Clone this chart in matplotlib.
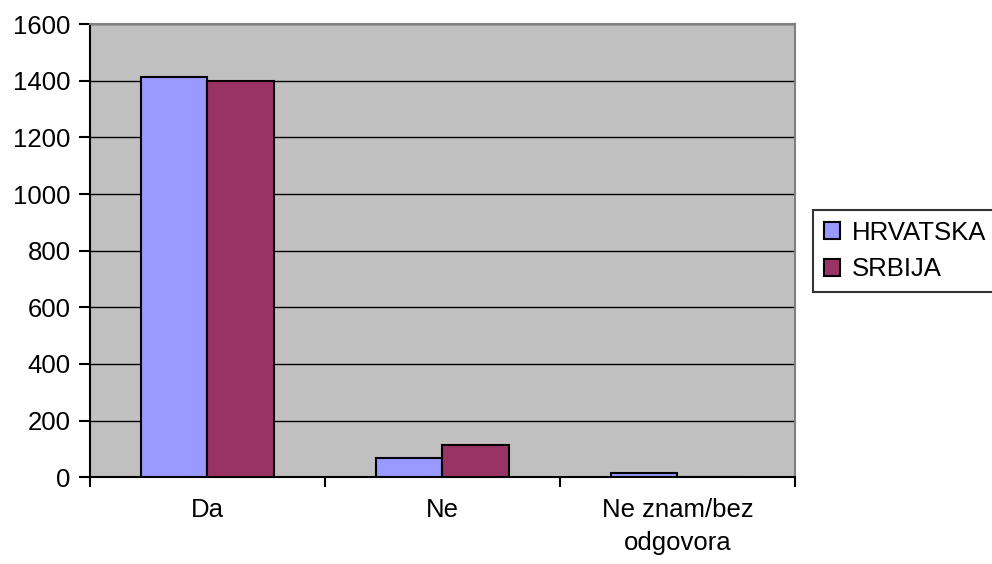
import matplotlib
matplotlib.use("Agg")
import matplotlib.pyplot as plt
import numpy as np

plt.rcParams['font.family'] = ['Liberation Sans', 'DejaVu Sans']

categories = ["Da", "Ne", "Ne znam/bez\nodgovora"]
hrvatska = [1415, 68, 14]
srbija = [1400, 115, 0]
series_names = ["HRVATSKA", "SRBIJA"]

fs = 18.5

fig = plt.figure(figsize=(9.92, 5.64), dpi=100)
ax = fig.add_axes([0.0907, 0.154, 0.7107, 0.803])
ax.set_facecolor("#C0C0C0")

x = np.arange(len(categories))
w = 0.285
ax.bar(x - w / 2, hrvatska, w, color="#9999FF", edgecolor="black", linewidth=1.5,
       label=series_names[0], zorder=3)
ax.bar(x + w / 2, srbija, w, color="#993366", edgecolor="black", linewidth=1.5,
       label=series_names[1], zorder=3)

ax.set_xlim(-0.5, 2.5)
ax.set_ylim(0, 1600)
ax.set_yticks(np.arange(0, 1601, 200))
ax.yaxis.grid(True, color="black", linewidth=1.0, zorder=0)
ax.set_axisbelow(True)

# category ticks on the boundaries, labels in the middle
ax.set_xticks([-0.5, 0.5, 1.5, 2.5])
ax.set_xticklabels([])
ax.set_xticks(x, minor=True)
ax.set_xticklabels(categories, minor=True, fontsize=fs, linespacing=1.45)
ax.tick_params(axis="x", which="minor", length=0, pad=15)
ax.tick_params(axis="x", which="major", length=7, width=1.5, color="black")
ax.tick_params(axis="y", length=8, width=1.5, labelsize=fs, pad=6)

for s in ["top", "right"]:
    ax.spines[s].set_color("#808080")
    ax.spines[s].set_linewidth(1.5)
ax.spines["left"].set_color("black")
ax.spines["bottom"].set_color("black")
ax.spines["left"].set_linewidth(1.5)
ax.spines["bottom"].set_linewidth(1.5)

leg = fig.legend(loc="center left", bbox_to_anchor=(0.82, 0.555), fontsize=fs,
                 frameon=True, fancybox=False, edgecolor="black",
                 handlelength=0.65, handleheight=0.65, handletextpad=0.45,
                 borderpad=0.4, labelspacing=0.5, borderaxespad=0)
leg.get_frame().set_linewidth(1.5)

fig.savefig("out.png", dpi=100)
